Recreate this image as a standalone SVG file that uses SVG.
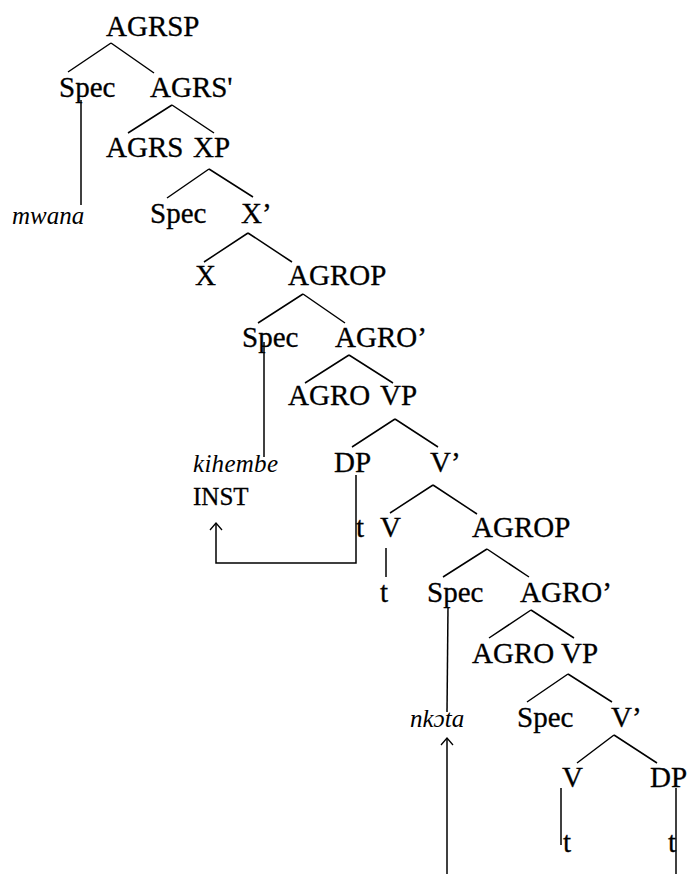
<svg xmlns="http://www.w3.org/2000/svg" width="688" height="874" viewBox="0 0 688 874">
<style>
  .n { font-family: "Liberation Serif", "Times New Roman", serif; font-size: 29px; fill: #000; stroke: #000; stroke-width: 0.3; }
  .it { font-family: "Liberation Serif", "DejaVu Serif", serif; font-style: italic; font-size: 25px; fill: #000; }
  .sm { font-family: "Liberation Serif", "Times New Roman", serif; font-size: 25px; fill: #000; stroke: #000; stroke-width: 0.3; }
  .e { stroke: #000; stroke-width: 1.5; fill: none; }
</style>
<defs>
  <marker id="arr" markerUnits="userSpaceOnUse" viewBox="-9 -7 11 14" refX="0" refY="0" markerWidth="11" markerHeight="14" orient="auto">
    <path d="M-7,-6 L0,0 L-7,6" fill="none" stroke="#000" stroke-width="1.3"/>
  </marker>
</defs>
<rect width="688" height="874" fill="#fff"/>
<g id="connectors" class="e">
  <path d="M111,43 L68,72 M111,43 L154,73"/>
  <path d="M172,105 L128,133 M172,105 L214,133"/>
  <path d="M209,169 L167,198 M209,169 L253,197"/>
  <path d="M248,233 L204,262 M248,233 L292,262"/>
  <path d="M303,294 L258,323 M303,294 L345,323"/>
  <path d="M349,355 L305,383 M349,355 L393,383"/>
  <path d="M395,419 L352,447 M395,419 L438,447"/>
  <path d="M433,485 L390,513 M433,485 L477,514"/>
  <path d="M487,549 L443,577 M487,549 L529,577"/>
  <path d="M531,610 L489,638 M531,610 L574,638"/>
  <path d="M568,674 L527,702 M568,674 L612,702"/>
  <path d="M614,735 L577,763 M614,735 L657,763"/>
  <path d="M81,100 V205"/>
  <path d="M264,342 V457"/>
  <path d="M356,475 V563 H216 V523" marker-end="url(#arr)"/>
  <path d="M386,548 V577"/>
  <path d="M448,607 L447,712"/>
  <path d="M447,874 V738" marker-end="url(#arr)"/>
  <path d="M561,788 V845"/>
  <path d="M676,788 V874"/>
</g>
<g font-family="Liberation Serif, serif">
<g id="n-agrsp"><text class="n" x="106" y="36">AGRSP</text></g>
<g id="n-spec1"><text class="n" x="59" y="97">Spec</text></g>
<g id="n-agrs-bar"><text class="n" x="150" y="97">AGRS'</text></g>
<g id="n-mwana"><text class="it" x="12" y="224">mwana</text></g>
<g id="n-agrs"><text class="n" x="106" y="157">AGRS</text></g>
<g id="n-xp"><text class="n" x="193" y="157">XP</text></g>
<g id="n-spec2"><text class="n" x="150" y="223">Spec</text></g>
<g id="n-x-bar"><text class="n" x="241" y="223">X’</text></g>
<g id="n-x"><text class="n" x="195" y="285">X</text></g>
<g id="n-agrop1"><text class="n" x="288" y="285">AGROP</text></g>
<g id="n-spec3"><text class="n" x="242" y="347">Spec</text></g>
<g id="n-agro-bar1"><text class="n" x="335" y="347">AGRO’</text></g>
<g id="n-agro1"><text class="n" x="288" y="405">AGRO</text></g>
<g id="n-vp1"><text class="n" x="380" y="405">VP</text></g>
<g id="n-kihembe"><text class="it" x="193" y="472" textLength="85" lengthAdjust="spacing">kihembe</text></g>
<g id="n-inst"><text class="sm" x="193" y="505">INST</text></g>
<g id="n-dp1"><text class="n" x="334" y="472">DP</text></g>
<g id="n-v-bar1"><text class="n" x="430" y="472">V’</text></g>
<g id="n-t1"><text class="n" x="356" y="537">t</text></g>
<g id="n-v1"><text class="n" x="380" y="537">V</text></g>
<g id="n-agrop2"><text class="n" x="472" y="537">AGROP</text></g>
<g id="n-t2"><text class="n" x="380" y="602">t</text></g>
<g id="n-spec4"><text class="n" x="427" y="602">Spec</text></g>
<g id="n-agro-bar2"><text class="n" x="520" y="602">AGRO’</text></g>
<g id="n-agro2"><text class="n" x="472" y="663">AGRO</text></g>
<g id="n-vp2"><text class="n" x="561" y="663">VP</text></g>
<g id="n-nkota"><text class="it" x="410" y="727" font-size="27">nkɔta</text></g>
<g id="n-spec5"><text class="n" x="517" y="727">Spec</text></g>
<g id="n-v-bar2"><text class="n" x="611" y="727">V’</text></g>
<g id="n-v2"><text class="n" x="562" y="787">V</text></g>
<g id="n-dp2"><text class="n" x="650" y="787">DP</text></g>
<g id="n-t3"><text class="n" x="563" y="852">t</text></g>
<g id="n-t4"><text class="n" x="668" y="852">t</text></g>
</g>
</svg>
